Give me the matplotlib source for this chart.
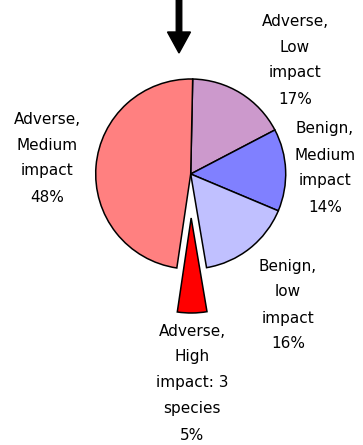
import matplotlib.pyplot as plt

# slice data, clockwise from the top
categories = ['Adverse, Low impact', 'Benign, Medium impact', 'Benign, low impact',
              'Adverse, High impact: 3 species', 'Adverse, Medium impact']
shares = [17, 14, 16, 5, 48]
colors = ['#CC99CC', '#8080FF', '#C0C0FF', '#FF0000', '#FF8080']

# label text, one list of lines per slice
label_lines = [['Adverse,', 'Low', 'impact', '17%'],
               ['Benign,', 'Medium', 'impact', '14%'],
               ['Benign,', 'low', 'impact', '16%'],
               ['Adverse,', 'High', 'impact: 3', 'species', '5%'],
               ['Adverse,', 'Medium', 'impact', '48%']]
# centre x and first line y of each label, in pixels from the top left
label_pos = [(295, 21), (325, 129), (288, 266), (192, 331), (47, 119)]

W, H = 363, 445
fig = plt.figure(figsize=(W / 100, H / 100), dpi=100)
ax = fig.add_axes([0, 0, 1, 1])

#the pie itself; explode is in data units here, not a fraction of the radius
radius = 95
ax.pie(shares, colors=colors, explode=[0, 0, 0, 44, 0], startangle=88.8,
       counterclock=False, center=(190.7, H - 174), radius=radius,
       wedgeprops=dict(edgecolor='black', linewidth=1.1))

#pie() resets the limits, so set them afterwards
ax.set_xlim(0, W)
ax.set_ylim(0, H)
ax.set_aspect('equal')
ax.axis('off')

#labels, one line at a time so the spacing matches
for lines, (px, py) in zip(label_lines, label_pos):
    for k, line in enumerate(lines):
        ax.text(px, H - (py + 26 * k), line, ha='center', va='center',
                fontsize=11, family='DejaVu Sans', color='black')

#the arrow at the top
ax.arrow(179, H, 0, -53, width=5.5, head_width=23, head_length=21,
         length_includes_head=True, color='black')

fig.savefig('out.png', dpi=100)
